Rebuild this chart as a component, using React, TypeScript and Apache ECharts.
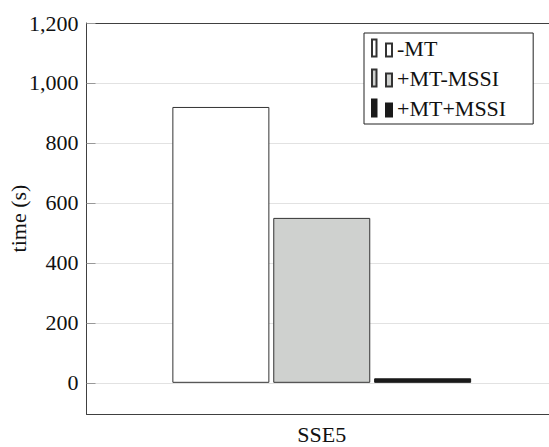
import React, { useEffect, useRef } from "react";
import * as echarts from "echarts";

const categories = ["SSE5"];
const seriesNames = ["-MT", "+MT-MSSI", "+MT+MSSI"];
const valuesNoMT = [920];
const valuesMTNoMSSI = [550];
const valuesMTMSSI = [15];
const yTicks = [0, 200, 400, 600, 800, 1000, 1200];

const FONT = "Liberation Serif";
const FS = 22;
const ICON = "path://M0,0H4.5V17H0Z M14,4H20V17H14Z";

export default function App() {
  const ref = useRef<HTMLDivElement>(null);
  useEffect(() => {
    document.body.style.margin = "0";
    const chart = echarts.init(ref.current!, undefined, { renderer: "svg" });
    const barBase = { type: "bar", barWidth: 97, barGap: "4%" };
    chart.setOption({
      animation: false,
      textStyle: { fontFamily: FONT },
      grid: {
        left: 86.5,
        right: -8,
        top: 23,
        bottom: 33,
        containLabel: false,
        outerBoundsMode: "none",
      },
      legend: {
        orient: "vertical",
        left: 364,
        top: 33,
        padding: [4, 27, 5, 7],
        itemGap: 8,
        itemWidth: 20,
        itemHeight: 17,
        icon: ICON,
        backgroundColor: "#fff",
        borderColor: "#222",
        borderWidth: 1,
        borderRadius: 0,
        textStyle: { fontFamily: FONT, fontSize: FS, color: "#111" },
        data: seriesNames,
      },
      xAxis: [
        {
          type: "category",
          data: categories,
          position: "bottom",
          axisLine: { onZero: false, lineStyle: { color: "#404040", width: 1 } },
          axisTick: { alignWithLabel: true, inside: false, length: 8, lineStyle: { color: "#888" } },
          axisLabel: { fontFamily: FONT, fontSize: FS, lineHeight: 16, color: "#111", margin: 12 },
        },
        {
          type: "category",
          data: categories,
          position: "top",
          axisLine: { onZero: false, lineStyle: { color: "#404040", width: 1 } },
          axisTick: { alignWithLabel: true, inside: false, length: 10, lineStyle: { color: "#888" } },
          axisLabel: { show: false },
        },
      ],
      yAxis: {
        type: "value",
        min: -104,
        max: 1200,
        name: "time (s)",
        nameLocation: "middle",
        nameGap: 57,
        nameMoveOverlap: false,
        nameTextStyle: { fontFamily: FONT, fontSize: FS, color: "#111" },
        axisLine: { show: true, lineStyle: { color: "#404040", width: 1 } },
        axisTick: { show: true, inside: true, length: 9, customValues: yTicks, lineStyle: { color: "#999" } },
        axisLabel: {
          fontFamily: FONT,
          fontSize: FS,
          color: "#111",
          margin: 8,
          customValues: yTicks,
          formatter: (v: number) => v.toLocaleString("en-US"),
        },
        splitLine: { show: true, lineStyle: { color: "#e2e2e2", width: 1 } },
      },
      series: [
        {
          ...barBase,
          name: seriesNames[0],
          data: valuesNoMT,
          itemStyle: { color: "#ffffff", borderColor: "#333", borderWidth: 1 },
        },
        {
          ...barBase,
          name: seriesNames[1],
          data: valuesMTNoMSSI,
          itemStyle: { color: "#cfd1cf", borderColor: "#333", borderWidth: 1 },
        },
        {
          ...barBase,
          name: seriesNames[2],
          data: valuesMTMSSI,
          itemStyle: { color: "#1a1a1a", borderColor: "#1a1a1a", borderWidth: 1 },
        },
      ],
    });
    return () => chart.dispose();
  }, []);
  return <div ref={ref} style={{ width: 549, height: 447 }} />;
}
